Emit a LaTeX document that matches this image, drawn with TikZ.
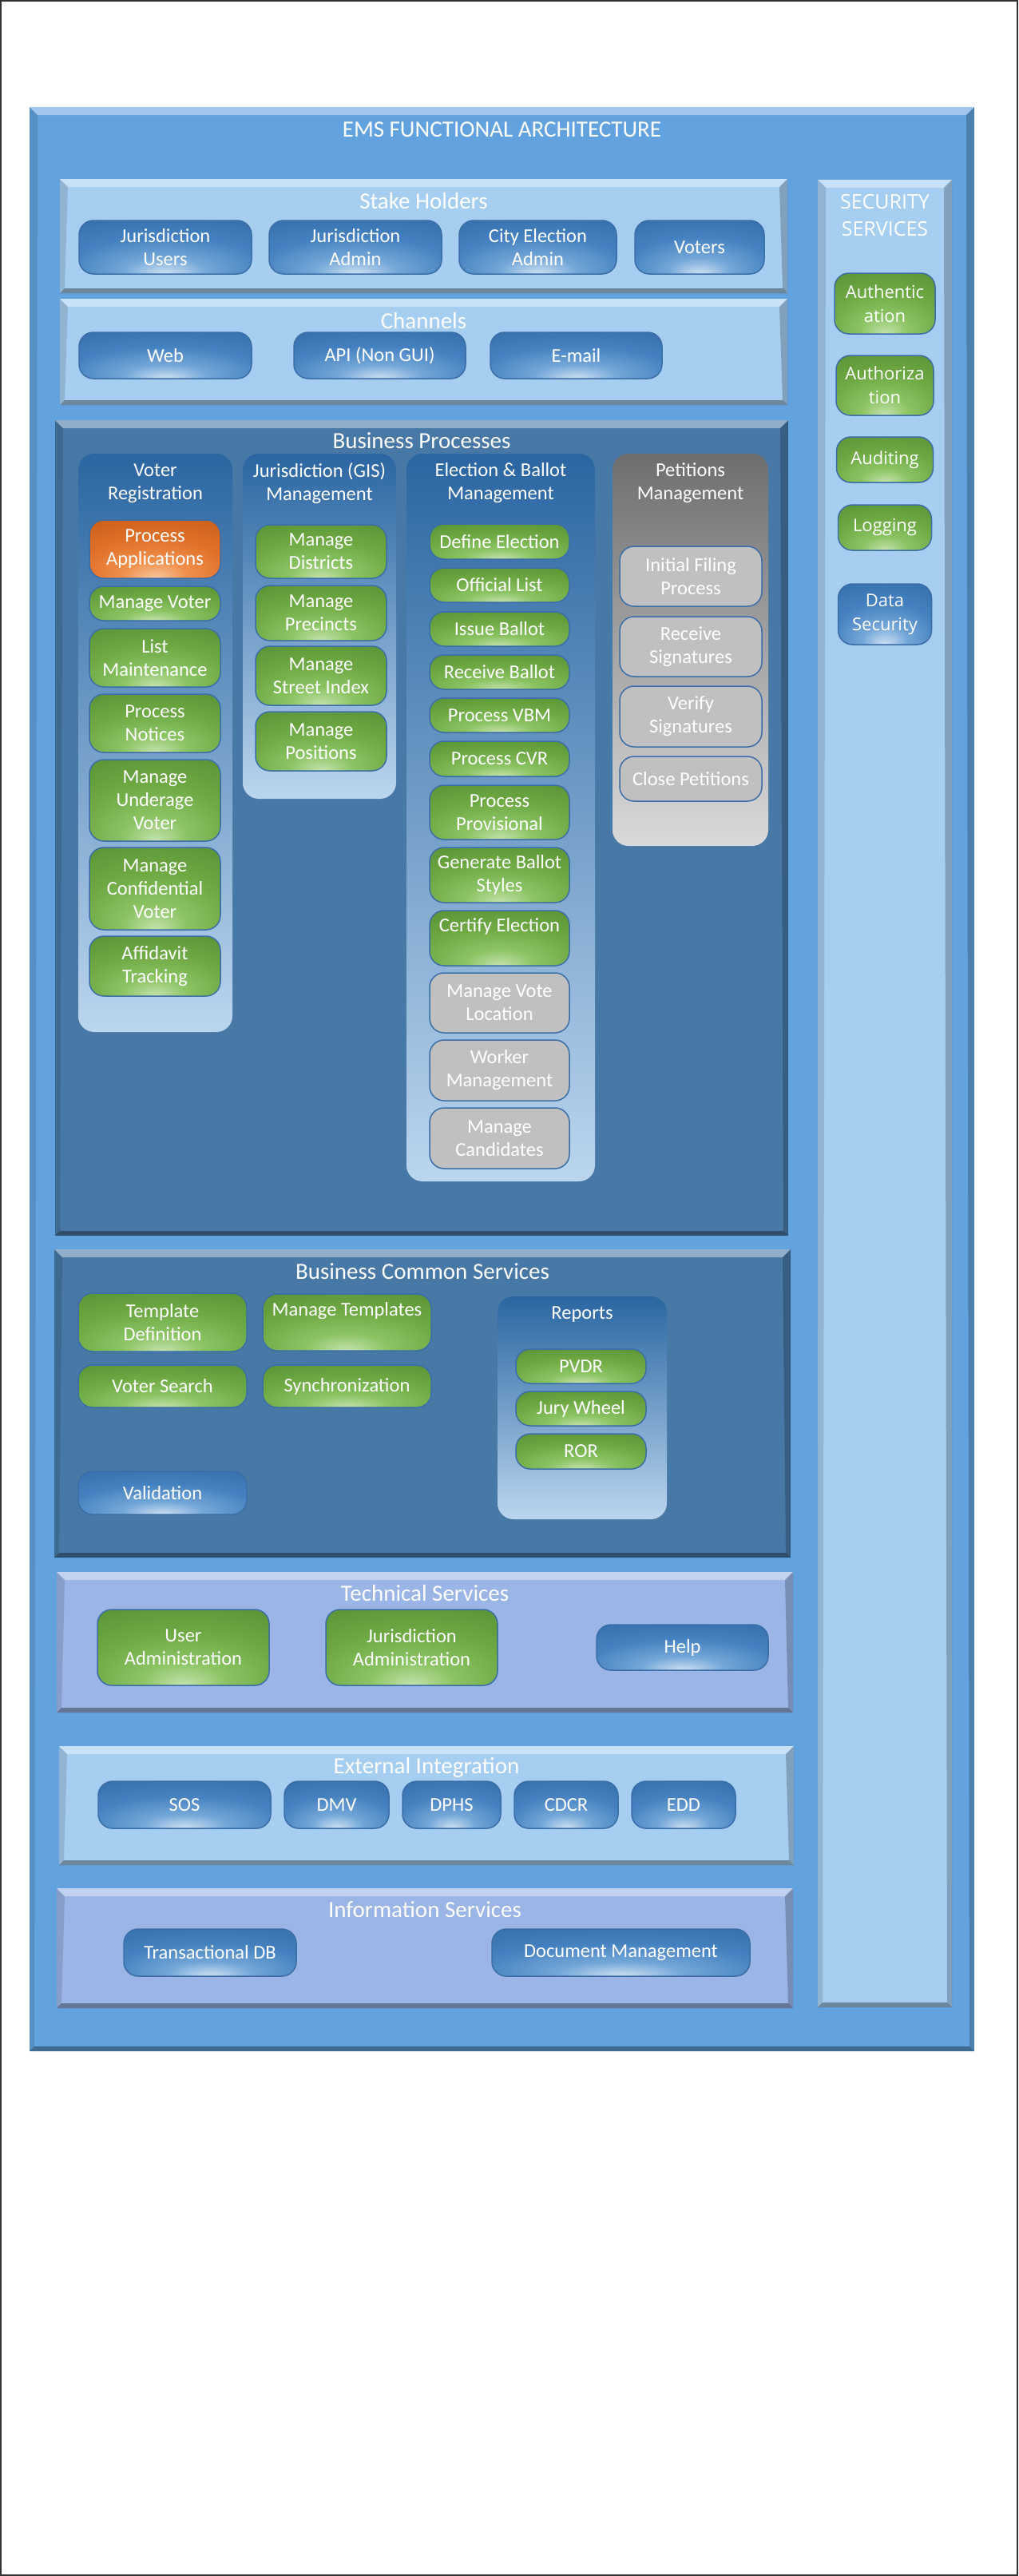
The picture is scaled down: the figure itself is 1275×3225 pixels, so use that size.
\documentclass[tikz,border=0pt]{standalone}
\usepackage{fontspec}
\setmainfont{Carlito}
\newfontfamily\secfont{Open Sans}
\usetikzlibrary{positioning}
\usetikzlibrary{fit}

\definecolor{emsblue}{HTML}{62A3DF}
\definecolor{paleblue}{HTML}{A6CEF1}
\definecolor{deepblue}{HTML}{4778A6}
\definecolor{lavender}{HTML}{9AB5E6}
\definecolor{btnedge}{HTML}{3B6EA6}
\definecolor{btngray}{HTML}{C0C0C0}
\definecolor{pageedge}{HTML}{333333}
\definecolor{coltop}{HTML}{2B66A2}
\definecolor{colbot}{HTML}{BBD6EF}
\definecolor{pettop}{HTML}{6E6E6E}
\definecolor{petbot}{HTML}{DADADA}
\definecolor{bA}{HTML}{CFE2F3}\definecolor{bB}{HTML}{74A7D8}
\definecolor{bC}{HTML}{4581C0}\definecolor{bD}{HTML}{2A629C}
\definecolor{gA}{HTML}{C5E2AE}\definecolor{gB}{HTML}{8CC464}
\definecolor{gC}{HTML}{6EA944}\definecolor{gD}{HTML}{4A832A}
\definecolor{oA}{HTML}{F8C8A0}\definecolor{oB}{HTML}{F0904C}
\definecolor{oC}{HTML}{E07028}\definecolor{oD}{HTML}{B8530F}

\pgfdeclareradialshading{blueglow}{\pgfpoint{0bp}{-25bp}}{color(0bp)=(bA); color(12bp)=(bB); color(28bp)=(bC); color(60bp)=(bD); color(100bp)=(bD)}
\pgfdeclareradialshading{greenglow}{\pgfpoint{0bp}{-25bp}}{color(0bp)=(gA); color(12bp)=(gB); color(28bp)=(gC); color(60bp)=(gD); color(100bp)=(gD)}
\pgfdeclareradialshading{orangeglow}{\pgfpoint{0bp}{-25bp}}{color(0bp)=(oA); color(12bp)=(oB); color(28bp)=(oC); color(60bp)=(oD); color(100bp)=(oD)}

\newcommand\bevel{%
  \fill[white,opacity=.4] (path picture bounding box.north west) -- (path picture bounding box.north east)
    -- ([shift={(-10pt,-10pt)}]path picture bounding box.north east) -- ([shift={(10pt,-10pt)}]path picture bounding box.north west) -- cycle;
  \fill[black,opacity=.35] (path picture bounding box.south west) -- (path picture bounding box.south east)
    -- ([shift={(-6pt,6pt)}]path picture bounding box.south east) -- ([shift={(6pt,6pt)}]path picture bounding box.south west) -- cycle;
  \fill[black,opacity=.12] (path picture bounding box.north west) -- ([shift={(10pt,-10pt)}]path picture bounding box.north west)
    -- ([shift={(6pt,6pt)}]path picture bounding box.south west) -- (path picture bounding box.south west) -- cycle;
  \fill[black,opacity=.22] (path picture bounding box.north east) -- ([shift={(-10pt,-10pt)}]path picture bounding box.north east)
    -- ([shift={(-6pt,6pt)}]path picture bounding box.south east) -- (path picture bounding box.south east) -- cycle;}

\tikzset{panel/.style={fill=#1,draw=none,inner sep=0pt,path picture={\bevel}},
    ttl/.style={text=white,inner sep=0pt,font=\fontsize{29}{35}\selectfont},
    coltitle/.style={text=white,inner sep=0pt,align=center,font=\fontsize{24.5}{29}\selectfont},
    column/.style={rounded corners=20pt,inner sep=0pt,top color=coltop,bottom color=colbot},
    petcolumn/.style={rounded corners=20pt,inner sep=0pt,top color=pettop,bottom color=petbot},
    btn/.style 2 args={rounded corners=18pt,draw=btnedge,line width=1.5pt,align=center,
    text=white,inner sep=1pt,outer sep=0pt,minimum width=#1pt,minimum height=#2pt,
    font=\fontsize{24.5}{29}\selectfont},
    bluebtn/.style 2 args={btn={#1}{#2},shade,shading=blueglow},
    greenbtn/.style 2 args={btn={#1}{#2},shade,shading=greenglow},
    orangebtn/.style 2 args={btn={#1}{#2},shade,shading=orangeglow},
    graybtn/.style 2 args={btn={#1}{#2},fill=btngray},
    secbtn/.style={font=\secfont\fontsize{22}{30}\selectfont}}

\begin{document}
\begin{tikzpicture}[x=1pt,y=-1pt]
    \useasboundingbox (0,0) rectangle (1275,3225);
    \draw[pageedge,line width=2pt] (1,1) rectangle (1274,3224);
    % frame
    \node[panel=emsblue,fit={(37,134) (1220,2568)}] (ems) {};
    \node[ttl] at ([yshift=-28pt]ems.north) {EMS FUNCTIONAL ARCHITECTURE};
    % stake holders
    \node[panel=paleblue,fit={(75,224) (986,367)}] (stake) {};
    \node[ttl] at ([yshift=-28pt]stake.north) {Stake Holders};
    \node[bluebtn={216}{67}] (jusers) at (207,309.5) {Jurisdiction\\Users};
    \node[bluebtn={216}{67},right=22pt of jusers] (jadmin) {Jurisdiction\\Admin};
    \node[bluebtn={197}{67},right=22pt of jadmin] (celect) {City Election\\Admin};
    \node[bluebtn={162}{67},right=23pt of celect] (voters) {Voters};
    % channels
    \node[panel=paleblue,fit={(75,374) (986,507)}] (chan) {};
    \node[ttl] at ([yshift=-28pt]chan.north) {Channels};
    \node[bluebtn={216}{58}] (web) at (207,445) {Web};
    \node[bluebtn={215}{58},right=53pt of web] (api) {API (Non GUI)};
    \node[bluebtn={215}{58},right=31pt of api] (email) {E-mail};
    % security services
    \node[panel=paleblue,fit={(1024,225) (1192,2513)}] (sec) {};
    \node[ttl,align=center,font=\secfont\fontsize{25}{34}\selectfont] at ([yshift=-44.5pt]sec.north) {SECURITY\\SERVICES};
    \node[greenbtn={126}{76},secbtn] (authn) at (1108,380) {Authentic\\ation};
    \node[greenbtn={122}{75},secbtn,below=27pt of authn] (authz) {Authoriza\\tion};
    \node[greenbtn={121}{57},secbtn,below=27pt of authz] (audit) {Auditing};
    \node[greenbtn={117}{57},secbtn,below=28pt of audit] (logging) {Logging};
    \node[bluebtn={117}{76},secbtn,below=42pt of logging] (datasec) {Data\\Security};
    % business processes
    \node[panel=deepblue,fit={(69,526) (987,1547)}] (bp) {};
    \node[ttl] at ([yshift=-26pt]bp.north) {Business Processes};
    \node[column,fit={(98,568) (291,1292)}] (vrcol) {};
    \node[column,fit={(304,568) (496,1000)}] (giscol) {};
    \node[column,fit={(509,568) (745,1479)}] (elcol) {};
    \node[petcolumn,fit={(767,568) (962,1059)}] (petcol) {};
    \node[coltitle] at ([yshift=-37pt]vrcol.north) {Voter\\Registration};
    \node[coltitle] at ([yshift=-37pt]giscol.north) {Jurisdiction (GIS)\\Management};
    \node[coltitle] at ([yshift=-37pt]elcol.north) {Election \& Ballot\\Management};
    \node[coltitle] at ([yshift=-37pt]petcol.north) {Petitions\\Management};
    \node[orangebtn={164}{73}] (procapp) at (194,687.5) {Process\\Applications};
    \node[greenbtn={164}{43},below=10pt of procapp] (mvoter) {Manage Voter};
    \node[greenbtn={164}{73},below=10pt of mvoter] (listm) {List\\Maintenance};
    \node[greenbtn={164}{73},below=9pt of listm] (notices) {Process\\Notices};
    \node[greenbtn={164}{102},below=9pt of notices] (underage) {Manage\\Underage\\Voter};
    \node[greenbtn={164}{103},below=8pt of underage] (confid) {Manage\\Confidential\\Voter};
    \node[greenbtn={164}{75},below=8pt of confid] (affid) {Affidavit\\Tracking};
    \node[greenbtn={164}{67}] (mdist) at (402,690.5) {Manage\\Districts};
    \node[greenbtn={164}{69},below=9pt of mdist] (mprec) {Manage\\Precincts};
    \node[greenbtn={164}{74},below=7pt of mprec] (mstreet) {Manage\\Street Index};
    \node[greenbtn={164}{74},below=8pt of mstreet] (mpos) {Manage\\Positions};
    \node[greenbtn={175}{44}] (defel) at (625.5,678) {Define Election};
    \node[greenbtn={175}{43},below=11pt of defel] (offlist) {Official List};
    \node[greenbtn={175}{43},below=12pt of offlist] (issue) {Issue Ballot};
    \node[greenbtn={175}{43},below=11pt of issue] (recvb) {Receive Ballot};
    \node[greenbtn={175}{43},below=11pt of recvb] (vbm) {Process VBM};
    \node[greenbtn={175}{44},below=11pt of vbm] (cvr) {Process CVR};
    \node[greenbtn={175}{68},below=11pt of cvr] (prov) {Process\\Provisional};
    \node[greenbtn={175}{69},below=10pt of prov] (genbs) {Generate Ballot\\Styles};
    \node[greenbtn={175}{69},below=10pt of genbs] (certify) {Certify Election\\\phantom{Certify}};
    \node[graybtn={175}{75},below=9pt of certify] (mvloc) {Manage Vote\\Location};
    \node[graybtn={175}{76},below=9pt of mvloc] (worker) {Worker\\Management};
    \node[graybtn={175}{76},below=9pt of worker] (mcand) {Manage\\Candidates};
    \node[graybtn={178}{75}] (filing) at (865,721.5) {Initial Filing\\Process};
    \node[graybtn={178}{75},below=13pt of filing] (rsig) {Receive\\Signatures};
    \node[graybtn={178}{76},below=12pt of rsig] (vsig) {Verify\\Signatures};
    \node[graybtn={178}{56},below=12pt of vsig] (closep) {Close Petitions};
    % business common services
    \node[panel=deepblue,fit={(68,1564) (990,1950)}] (bcs) {};
    \node[ttl] at ([yshift=-28pt]bcs.north) {Business Common Services};
    \node[greenbtn={211}{73}] (tdef) at (203.5,1655.5) {Template\\Definition};
    \node[greenbtn={211}{71},right=20pt of tdef] (mtemp) {Manage Templates\\\phantom{Manage}};
    \node[greenbtn={211}{53},below=17pt of tdef] (vsearch) {Voter Search};
    \node[greenbtn={211}{53},right=20pt of vsearch] (sync) {Synchronization};
    \node[bluebtn={211}{54},below=80pt of vsearch] (valid) {Validation};
    \node[column,fit={(623,1623) (835,1902)}] (repcol) {};
    \node[coltitle] at ([yshift=-23pt]repcol.north) {Reports};
    \node[greenbtn={163}{43}] (pvdr) at (727.5,1710.5) {PVDR};
    \node[greenbtn={163}{43},below=10pt of pvdr] (jury) {Jury Wheel};
    \node[greenbtn={163}{44},below=10pt of jury] (ror) {ROR};
    % technical services
    \node[panel=lavender,fit={(71,1968) (993,2144)}] (tech) {};
    \node[ttl] at ([yshift=-27pt]tech.north) {Technical Services};
    \node[greenbtn={215}{95}] (useradm) at (229.5,2062.5) {User\\Administration};
    \node[greenbtn={215}{95},right=71pt of useradm] (jadm) {Jurisdiction\\Administration};
    \node[bluebtn={215}{57},right=124pt of jadm] (help) {Help};
    % external integration
    \node[panel=paleblue,fit={(74,2186) (994,2335)}] (ext) {};
    \node[ttl] at ([yshift=-27pt]ext.north) {External Integration};
    \node[bluebtn={216}{59}] (sos) at (231,2259.5) {SOS};
    \node[bluebtn={131}{59},right=17pt of sos] (dmv) {DMV};
    \node[bluebtn={123}{59},right=17pt of dmv] (dphs) {DPHS};
    \node[bluebtn={130}{59},right=17pt of dphs] (cdcr) {CDCR};
    \node[bluebtn={130}{59},right=17pt of cdcr] (edd) {EDD};
    % information services
    \node[panel=lavender,fit={(71,2364) (993,2514)}] (info) {};
    \node[ttl] at ([yshift=-27pt]info.north) {Information Services};
    \node[bluebtn={216}{59}] (tdb) at (263,2444.5) {Transactional DB};
    \node[bluebtn={323}{59}] (docm) at (777.5,2444.5) {Document Management};
\end{tikzpicture}
\end{document}
